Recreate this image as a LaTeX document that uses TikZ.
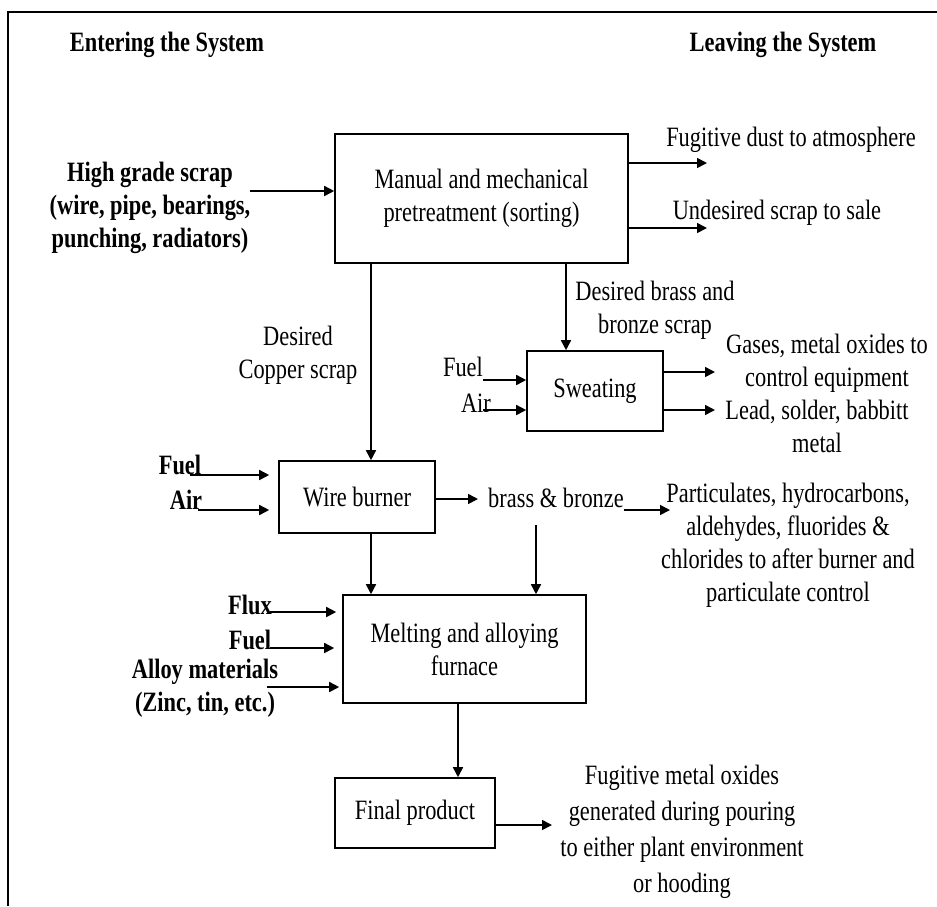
\documentclass[tikz,border=0pt]{standalone}
\usepackage{fontspec}
\setmainfont{Liberation Serif}[FakeStretch=0.8]
\usepackage{tikz}
\usetikzlibrary{positioning,arrows.meta}

\begin{document}
\begin{tikzpicture}[
    x=1pt, y=-1pt,
    txt/.style={font=\fontsize{28}{33}\selectfont, align=center, inner sep=0pt},
    btxt/.style={txt, font=\fontsize{28}{33}\selectfont\bfseries},
    box/.style={rectangle, draw, line width=1.6pt, txt},
    arr/.style={-{Triangle[length=10pt,width=10pt]}, line width=1.6pt}
]
    \useasboundingbox (0,0) rectangle (937,906);
    \draw[line width=2.4pt] (8,906) -- (8,12) -- (937,12);

    % headings
    \node[btxt] (enter) at (167,45) {Entering the System};
    \node[btxt] (leave) at (783,45) {Leaving the System};

    % process boxes
    \node[box, minimum width=293pt, minimum height=129pt] (prep) at (481.5,198.5) {Manual and mechanical\\pretreatment (sorting)};
    \node[box, minimum width=136pt, minimum height=80pt] (sweat) at (595,391) {Sweating};
    \node[box, minimum width=156pt, minimum height=72pt] (wire) at (357,497) {Wire burner};
    \node[box, minimum width=243pt, minimum height=108pt] (melt) at (464.5,649) {Melting and alloying\\furnace};
    \node[box, minimum width=160pt, minimum height=70pt] (final) at (415,813) {Final product};

    % entering the system
    \node[btxt] (scrap) at (150,208) {High grade scrap\\(wire, pipe, bearings,\\punching, radiators)};
    \node[btxt] (wfuel) at (180,465) {Fuel};
    \node[btxt] (wair) at (186,500) {Air};
    \node[txt] (sfuel) at (463,367) {Fuel};
    \node[txt] (sair) at (476,403) {Air};
    \node[btxt] (flux) at (250,605) {Flux};
    \node[btxt] (mfuel) at (250,640) {Fuel};
    \node[btxt] (alloy) at (205,688) {Alloy materials\\(Zinc, tin, etc.)};

    % leaving the system
    \node[txt] (dust) at (791,140) {Fugitive dust to atmosphere};
    \node[txt] (sale) at (777,213) {Undesired scrap to sale};
    \node[txt] (brassscrap) at (655,310) {Desired brass and\\bronze scrap};
    \node[txt] (copper) at (298,355) {Desired\\Copper scrap};
    \node[txt] (gases) at (827,363) {Gases, metal oxides to\\control equipment};
    \node[txt] (lead) at (817,426) {Lead, solder, babbitt\\metal};
    \node[txt] (bb) at (556,498) {brass \& bronze};
    \node[txt] (partic) at (788,545) {Particulates, hydrocarbons,\\aldehydes, fluorides \&\\chlorides to after burner and\\particulate control};
    \node[txt, font=\fontsize{28}{36}\selectfont] (pour) at (682,832) {Fugitive metal oxides\\generated during pouring\\to either plant environment\\or hooding};

    % free ends
    \coordinate (scrapin) at (250,191);
    \coordinate (dustout) at (707,163);
    \coordinate (saleout) at (707,228);
    \coordinate (sfuelin) at (483,380);
    \coordinate (sairin) at (483,410);
    \coordinate (gasout) at (715,372);
    \coordinate (leadout) at (715,410);
    \coordinate (wfuelin) at (190,475);
    \coordinate (wairin) at (198,510);
    \coordinate (bbout) at (478,499);
    \coordinate (particin) at (670,510);
    \coordinate (bbdrop) at (536,525);
    \coordinate (fluxin) at (270,612);
    \coordinate (mfuelin) at (270,648);
    \coordinate (alloyin) at (267,687);
    \coordinate (pourout) at (552,825);

    \draw[arr] (scrapin) -- (prep.west |- scrapin);
    \draw[arr] (prep.east |- dustout) -- (dustout);
    \draw[arr] (prep.east |- saleout) -- (saleout);
    \draw[arr] ([xshift=-29pt]sweat.north |- prep.south) -- ([xshift=-29pt]sweat.north);
    \draw[arr] ([xshift=14pt]wire.north |- prep.south) -- ([xshift=14pt]wire.north);
    \draw[arr] (sfuelin) -- (sweat.west |- sfuelin);
    \draw[arr] (sairin) -- (sweat.west |- sairin);
    \draw[arr] (sweat.east |- gasout) -- (gasout);
    \draw[arr] (sweat.east |- leadout) -- (leadout);
    \draw[arr] (wfuelin) -- ([xshift=-9pt]wire.west |- wfuelin);
    \draw[arr] (wairin) -- ([xshift=-9pt]wire.west |- wairin);
    \draw[arr] (wire.east |- bbout) -- (bbout);
    \draw[arr] (bb.east |- particin) -- (particin);
    \draw[arr] (bbdrop) -- (bbdrop |- melt.north);
    \draw[arr] ([xshift=14pt]wire.south) -- ([xshift=14pt]wire.south |- melt.north);
    \draw[arr] (fluxin) -- ([xshift=-6pt]melt.west |- fluxin);
    \draw[arr] (mfuelin) -- ([xshift=-8pt]melt.west |- mfuelin);
    \draw[arr] (alloyin) -- ([xshift=-3pt]melt.west |- alloyin);
    \draw[arr] ([xshift=-6.5pt]melt.south) -- ([xshift=-6.5pt]melt.south |- final.north);
    \draw[arr] (final.east |- pourout) -- (pourout);
\end{tikzpicture}
\end{document}
